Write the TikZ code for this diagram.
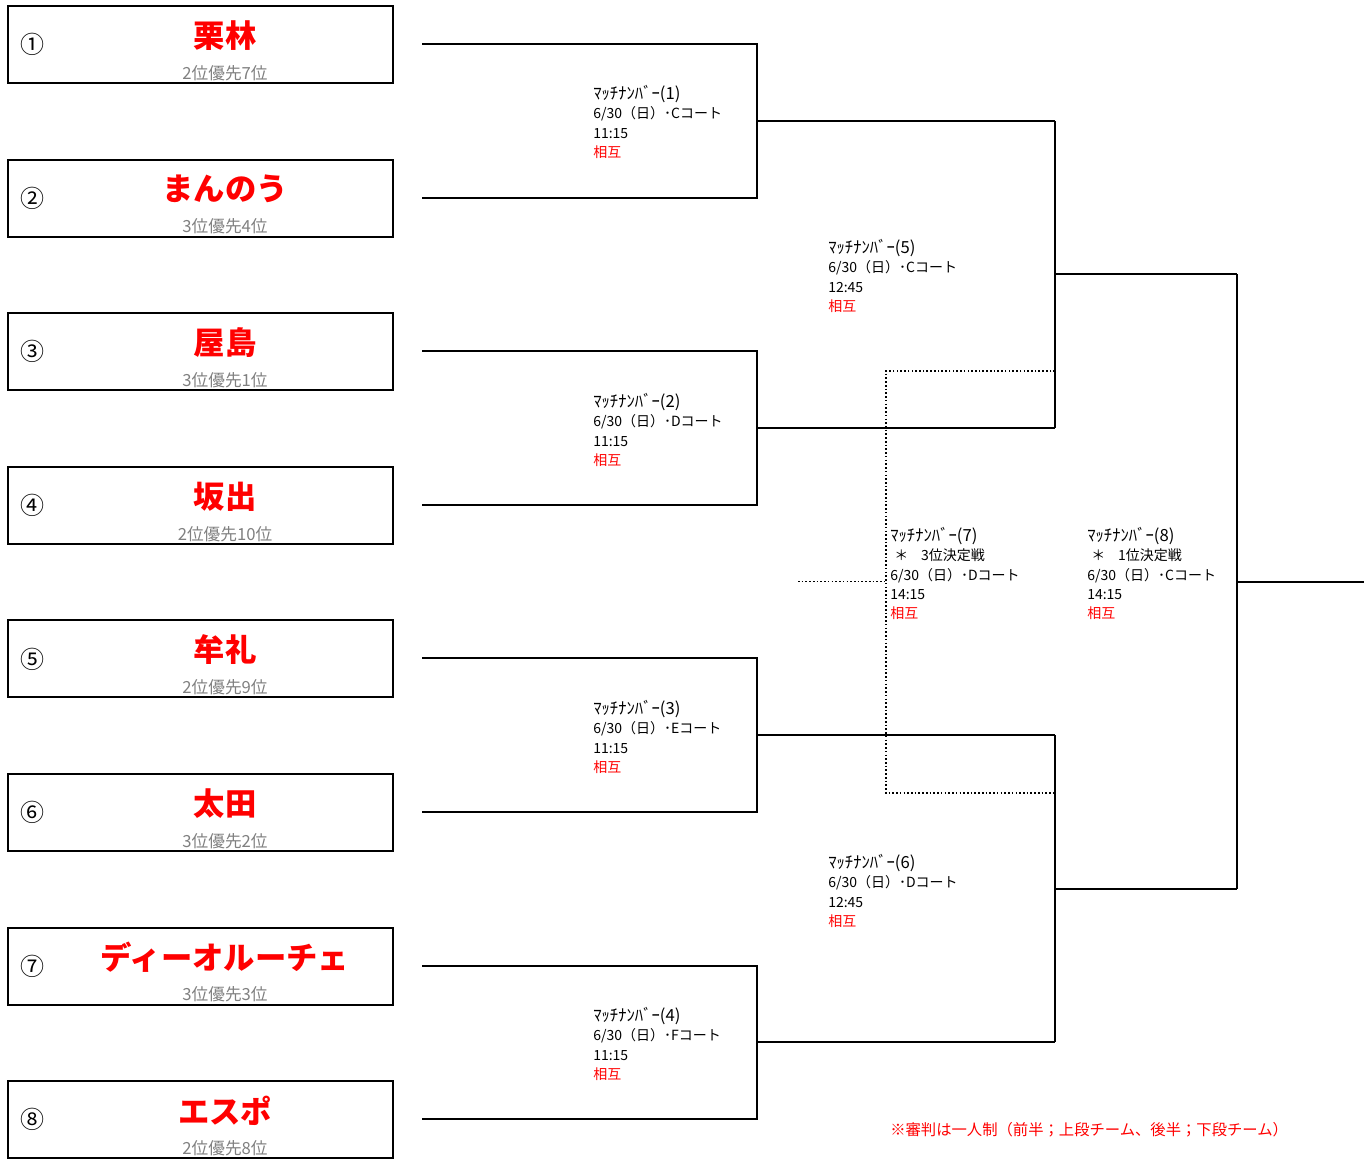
\documentclass[tikz,border=0pt]{standalone}
\usepackage{fontspec}
\setmainfont{Noto Sans CJK JP}
\usetikzlibrary{calc}
\definecolor[named]{TeamRed}{RGB}{255,0,0}
\definecolor[named]{SubGray}{RGB}{128,128,128}
\newcommand{\aite}{\textcolor{TeamRed}{相互}}
\newcommand{\mno}[1]{{\fontsize{12.5pt}{14.5pt}\selectfont ﾏｯﾁﾅﾝﾊﾞｰ(#1)}}
\begin{document}
\begin{tikzpicture}[x=0.75pt,y=-0.75pt,
    bline/.style={line width=1.5pt},
    dline/.style={line width=1.2pt,dash pattern=on 1.2pt off 1.6pt},
    teambox/.style={draw,line width=1.5pt,minimum width=288.75pt,minimum height=57.75pt,inner sep=0},
    info/.style={anchor=north west,align=left,inner sep=0,font=\fontsize{10.5pt}{14.5pt}\selectfont}]
  \useasboundingbox (0,0) rectangle (1370,1158);
  % teams
  \foreach \i/\c/\nm/\sub in {1/①/栗林/2位優先7位,2/②/まんのう/3位優先4位,
      3/③/屋島/3位優先1位,4/④/坂出/2位優先10位,5/⑤/牟礼/2位優先9位,
      6/⑥/太田/3位優先2位,7/⑦/ディーオルーチェ/3位優先3位,8/⑧/エスポ/2位優先8位}{
    \pgfmathsetmacro{\cy}{44.5+(\i-1)*153.6}
    \node[teambox] (t\i) at (200.5,\cy) {};
    \node[font=\fontsize{18pt}{18pt}\selectfont] (c\i) at (33,\cy) {\c};
    \node[font=\fontsize{23.5pt}{24pt}\selectfont\bfseries,text=TeamRed] (n\i) at (225,\cy-9) {\nm};
    \node[font=\fontsize{12.5pt}{12.5pt}\selectfont,text=SubGray] (s\i) at (225,\cy+28.5) {\sub};
  }
  % first round
  \foreach \k in {1,...,4}{
    \pgfmathsetmacro{\ya}{44+(\k-1)*307.2}
    \pgfmathsetmacro{\yb}{\ya+153.6}
    \coordinate (a\k) at (422,\ya);
    \coordinate (b\k) at (422,\yb);
    \coordinate (m\k) at (757,{(\ya+\yb)/2});
    \coordinate (w\k) at (1055,{(\ya+\yb)/2});
    \draw[bline] (a\k) -| (m\k) |- (b\k);
    \draw[bline] (m\k) -- (w\k);
  }
  % second round and final
  \coordinate (f1) at (1237,274.4);
  \coordinate (f2) at (1237,888.8);
  \coordinate (win) at (1364,581.6);
  \draw[bline] (w1) -- (w2);
  \draw[bline] (w3) -- (w4);
  \draw[bline] (1055,274.4) -- (f1);
  \draw[bline] (1055,888.8) -- (f2);
  \draw[bline] (f1) -- (f2);
  \draw[bline] (1237,581.6) -- (win);
  % third place
  \coordinate (l1) at (1055,371);
  \coordinate (l2) at (1055,793);
  \coordinate (l3) at (798,581.6);
  \draw[dline] (l1) -| (886,793) -- (l2);
  \draw[dline] (l3) -- (886,581.6);
  % match info
  \node[info] (i1) at (593,85) {\mno{1}\\6/30（日）･Cコート\\11:15\\\aite};
  \node[info] (i2) at (593,393) {\mno{2}\\6/30（日）･Dコート\\11:15\\\aite};
  \node[info] (i3) at (593,700) {\mno{3}\\6/30（日）･Eコート\\11:15\\\aite};
  \node[info] (i4) at (593,1007) {\mno{4}\\6/30（日）･Fコート\\11:15\\\aite};
  \node[info] (i5) at (828,239) {\mno{5}\\6/30（日）･Cコート\\12:45\\\aite};
  \node[info] (i6) at (828,854) {\mno{6}\\6/30（日）･Dコート\\12:45\\\aite};
  \node[info] (i7) at (890,527) {\mno{7}\\\hspace{0.3em}＊\hspace{0.9em}3位決定戦\\6/30（日）･Dコート\\14:15\\\aite};
  \node[info] (i8) at (1087,527) {\mno{8}\\\hspace{0.3em}＊\hspace{0.9em}1位決定戦\\6/30（日）･Cコート\\14:15\\\aite};
  \node[anchor=west,inner sep=0,text=TeamRed,font=\fontsize{11.5pt}{11.5pt}\selectfont] (note) at (890,1130)
    {※審判は一人制（前半；上段チーム、後半；下段チーム）};
\end{tikzpicture}
\end{document}
